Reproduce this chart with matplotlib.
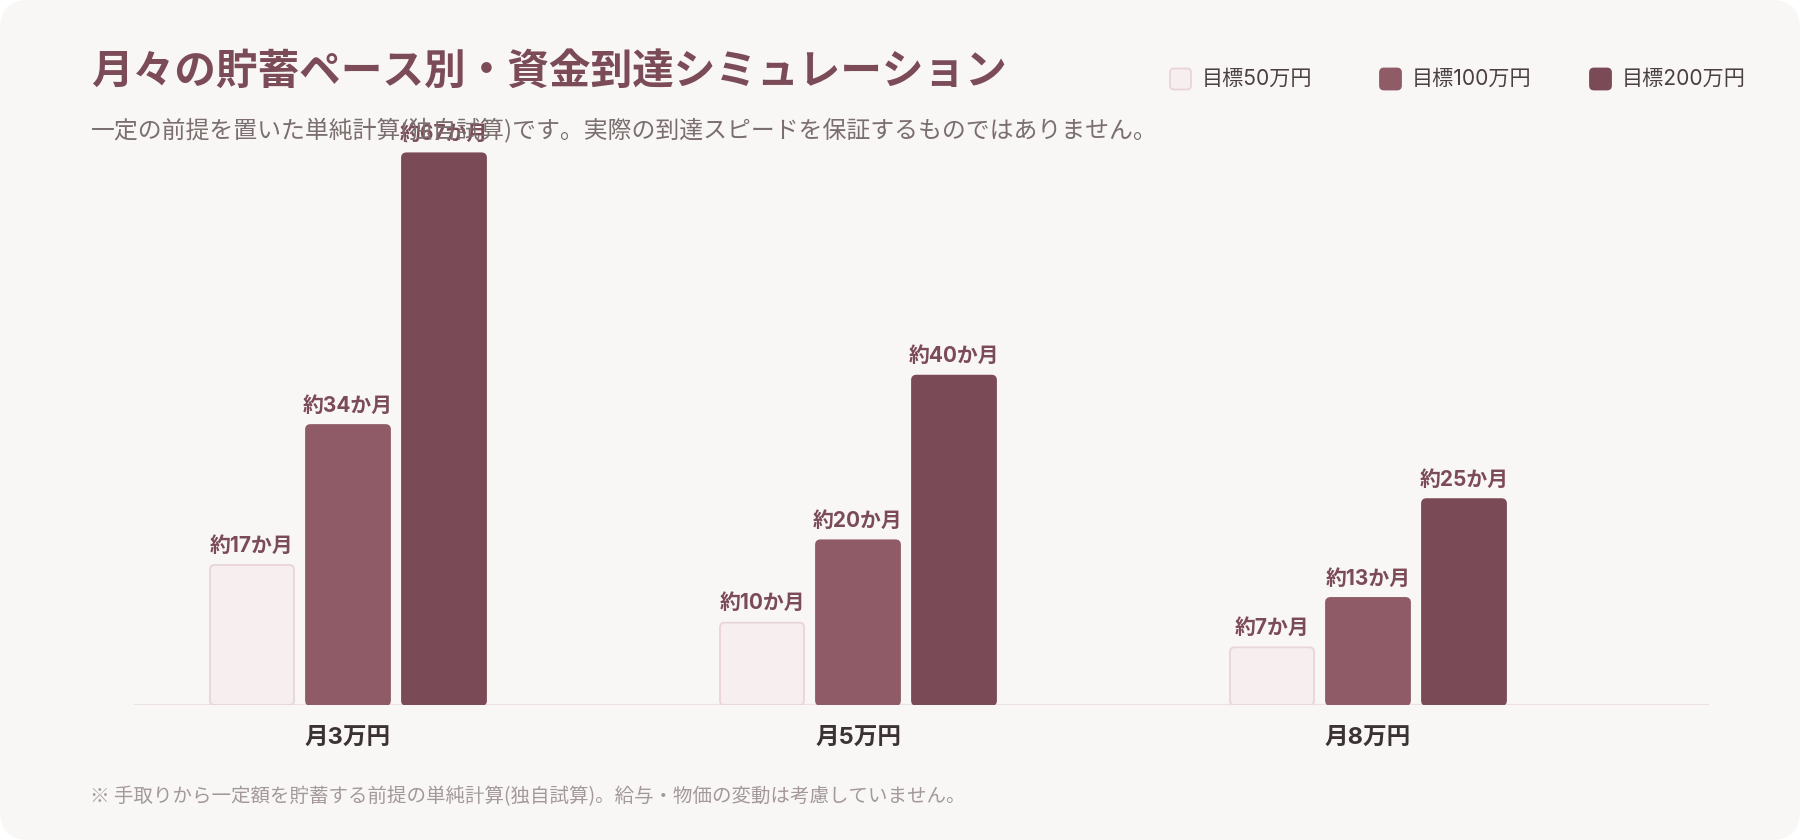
import matplotlib
matplotlib.use("Agg")
import matplotlib.pyplot as plt
from matplotlib.patches import FancyBboxPatch
from matplotlib.transforms import IdentityTransform
import numpy as np

plt.rcParams['font.family'] = ['Noto Sans CJK JP', 'DejaVu Sans']
MIX = ['Inter', 'Noto Sans CJK JP', 'DejaVu Sans']

# ---- data ----
categories = ["月3万円", "月5万円", "月8万円"]
series_names = ["目標50万円", "目標100万円", "目標200万円"]
months_50 = [17, 10, 7]
months_100 = [34, 20, 13]
months_200 = [67, 40, 25]
series_values = [months_50, months_100, months_200]
value_fmt = "約{}か月"

title = "月々の貯蓄ペース別・資金到達シミュレーション"
subtitle = "一定の前提を置いた単純計算(独自試算)です。実際の到達スピードを保証するものではありません。"
footnote = "※ 手取りから一定額を貯蓄する前提の単純計算(独自試算)。給与・物価の変動は考慮していません。"

# ---- styles ----
W, H = 1800, 840
BG = "#f9f7f6"
fills = ["#f7eef0", "#8e5b67", "#7b4a57"]
edges = ["#e9d4d9", "#8e5b67", "#7b4a57"]
TITLE_C = "#7b4b58"
LABEL_C = "#7b4b58"

fig = plt.figure(figsize=(W / 100, H / 100), dpi=100)
fig.patch.set_facecolor("white")
card = FancyBboxPatch((0, 0), W, H, boxstyle="round,pad=0,rounding_size=28",
                      transform=IdentityTransform(), facecolor=BG, edgecolor="none", zorder=-10)
fig.patches.append(card)

# axes in pixel layout
ax_l, ax_r, ax_bot, ax_top = 134, 1709, 705, 140
ax = fig.add_axes([ax_l / W, (H - ax_bot) / H, (ax_r - ax_l) / W, (ax_bot - ax_top) / H])
ax.set_facecolor("none")
for s in ax.spines.values():
    s.set_visible(False)

px_per_x = 510.0
px_per_y = 8.234
x = np.arange(len(categories))
ax.set_xlim(-(348 - ax_l) / px_per_x, 2 + (ax_r - 1368) / px_per_x)
ax.set_ylim(0, (ax_bot - ax_top) / px_per_y)

bw = 84 / px_per_x
step = 96 / px_per_x
aspect = px_per_x / px_per_y
r = 4.5 / px_per_x

for i, (vals, name) in enumerate(zip(series_values, series_names)):
    off = (i - 1) * step
    bars = ax.bar(x + off, vals, width=bw, color=fills[i], label=name)
    for b, v in zip(bars, vals):
        b.set_visible(False)
        p = FancyBboxPatch((b.get_x(), b.get_y()), b.get_width(), b.get_height(),
                           boxstyle=f"round,pad=0,rounding_size={r}",
                           mutation_aspect=aspect, facecolor=fills[i],
                           edgecolor=edges[i], linewidth=1.3, zorder=3)
        ax.add_patch(p)
        ax.annotate(value_fmt.format(v), (b.get_x() + b.get_width() / 2, v),
                    xytext=(0, 14), textcoords="offset points", ha="center", va="center",
                    fontsize=15, fontweight="bold", color=LABEL_C, zorder=5,
                    annotation_clip=False, family=MIX)

ax.axhline(0, color="#ebe2e0", lw=1.6, zorder=1)
ax.set_yticks([])
ax.set_xticks(x)
ax.set_xticklabels(categories, fontsize=17, fontweight="bold", color="#3b3234", family=MIX)
ax.tick_params(axis="x", length=0, pad=16)

# title, subtitle, footnote
fig.text(91 / W, 1 - 72 / H, title, fontsize=30.0, fontweight="bold", color=TITLE_C,
         ha="left", va="center")
fig.text(91 / W, 1 - 130 / H, subtitle, fontsize=17.2, color="#7a6e6e",
         ha="left", va="center")
fig.text(90 / W, 1 - 797 / H, footnote, fontsize=14, color="#a3989a",
         ha="left", va="center")

# legend (manual)
sq_x = [1170, 1380, 1590]
txt_x = [1202, 1412, 1622]
leg_y = 79
for i, name in enumerate(series_names):
    sq = FancyBboxPatch((sq_x[i], H - leg_y - 10.5), 21, 21,
                        boxstyle="round,pad=0,rounding_size=4",
                        transform=IdentityTransform(), facecolor=fills[i],
                        edgecolor=edges[i], linewidth=1.3)
    fig.patches.append(sq)
    fig.text(txt_x[i] / W, 1 - leg_y / H, name, fontsize=15.2, color="#4a3f42",
             ha="left", va="center", family=MIX)

fig.savefig("out.png", dpi=100, facecolor=fig.get_facecolor())
